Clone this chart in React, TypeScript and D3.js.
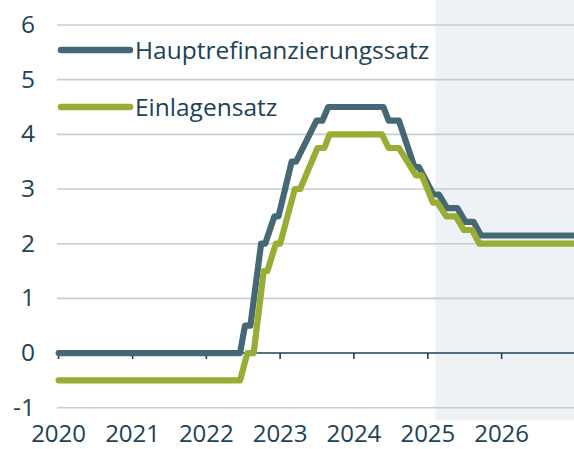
import React, { useEffect } from 'react';
import * as d3 from 'd3';

const W = 574;
const H = 449;

// Leitzinsen der EZB in %, Knickpunkte
const mroDates = [
  '2020-01-01', '2022-06-17', '2022-07-11', '2022-08-07', '2022-09-29', '2022-10-19',
  '2022-12-04', '2022-12-24', '2023-02-27', '2023-03-21', '2023-06-30', '2023-07-29',
  '2023-08-27', '2024-05-26', '2024-06-21', '2024-08-11', '2024-10-27', '2024-11-18',
  '2025-01-28', '2025-02-24', '2025-04-06', '2025-05-27', '2025-07-06', '2025-08-15',
  '2025-09-21', '2027-01-01',
];
const mroValues = [
  0, 0, 0.5, 0.5, 2.0, 2.0,
  2.5, 2.5, 3.5, 3.5, 4.25, 4.25,
  4.5, 4.5, 4.25, 4.25, 3.4, 3.4,
  2.9, 2.9, 2.65, 2.65, 2.4, 2.4,
  2.15, 2.15,
];

const depoDates = [
  '2020-01-01', '2022-06-17', '2022-07-23', '2022-08-23', '2022-10-12', '2022-10-30',
  '2022-12-11', '2023-01-01', '2023-03-15', '2023-04-10', '2023-07-05', '2023-08-08',
  '2023-09-03', '2024-05-19', '2024-06-21', '2024-08-11', '2024-11-03', '2024-12-02',
  '2025-01-26', '2025-02-17', '2025-04-02', '2025-05-19', '2025-06-28', '2025-08-08',
  '2025-09-13', '2027-01-01',
];
const depoValues = [
  -0.5, -0.5, 0, 0, 1.5, 1.5,
  2.0, 2.0, 3.0, 3.0, 3.75, 3.75,
  4.0, 4.0, 3.75, 3.75, 3.25, 3.25,
  2.75, 2.75, 2.5, 2.5, 2.25, 2.25,
  2.0, 2.0,
];

const seriesNames = ['Hauptrefinanzierungssatz', 'Einlagensatz'];
const seriesColors = ['#456874', '#98ad34'];
const yTicks = [-1, 0, 1, 2, 3, 4, 5, 6];
const years = [2020, 2021, 2022, 2023, 2024, 2025, 2026];
const forecastStart = '2025-02-06';

const parse = d3.timeParse('%Y-%m-%d');
const textColor = '#1d4254';
const font = '"Open Sans", sans-serif';

export default function App() {
  useEffect(() => {
    document.body.style.margin = '0';
  }, []);

  const x = d3.scaleTime()
    .domain([new Date(2020, 0, 1), new Date(2027, 0, 1)])
    .range([58.6, 575.4]);
  const y = d3.scaleLinear().domain([-1, 6]).range([407.7, 25]);

  const line = d3.line<[Date, number]>()
    .x(d => x(d[0]))
    .y(d => y(d[1]));

  const mro = mroDates.map((d, i) => [parse(d)!, mroValues[i]] as [Date, number]);
  const depo = depoDates.map((d, i) => [parse(d)!, depoValues[i]] as [Date, number]);

  const xLeft = 57;
  const fx = x(parse(forecastStart)!);

  return (
    <svg width={W} height={H} style={{ display: 'block' }} fontFamily={font}>
      <rect x={fx} y={0} width={W - fx} height={420} fill="#eff2f4" />

      {yTicks.filter(t => t !== 0).map(t => (
        <line key={t} x1={xLeft} x2={W} y1={y(t)} y2={y(t)} stroke="#c3cfd5" strokeWidth={1.6} />
      ))}

      {yTicks.map(t => (
        <text key={t} x={35} y={y(t)} dy="0.33em" textAnchor="end" fontSize={24.5} fill={textColor}>
          {t}
        </text>
      ))}

      <line x1={xLeft} x2={W} y1={y(0)} y2={y(0)} stroke="#1d4254" strokeWidth={1.6} />
      {years.map(yr => {
        const px = x(new Date(yr, 0, 1));
        return (
          <g key={yr}>
            <line x1={px} x2={px} y1={y(0)} y2={y(0) + 6} stroke="#1d4254" strokeWidth={1.6} />
            <text x={px} y={442} textAnchor="middle" fontSize={24} fill={textColor}>{yr}</text>
          </g>
        );
      })}

      <path d={line(mro)!} fill="none" stroke={seriesColors[0]} strokeWidth={6.2}
        strokeLinejoin="round" strokeLinecap="round" />
      <path d={line(depo)!} fill="none" stroke={seriesColors[1]} strokeWidth={6.2}
        strokeLinejoin="round" strokeLinecap="round" />

      {seriesNames.map((name, i) => {
        const ly = 50 + i * 57;
        return (
          <g key={name}>
            <line x1={61} x2={130} y1={ly} y2={ly} stroke={seriesColors[i]} strokeWidth={6.5} strokeLinecap="round" />
            <text x={135} y={ly + 8.5} fontSize={24.5} fill={textColor}>{name}</text>
          </g>
        );
      })}
    </svg>
  );
}
